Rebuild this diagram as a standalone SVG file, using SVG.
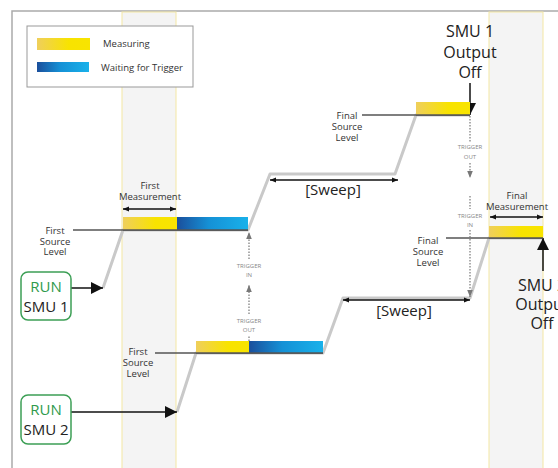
<svg xmlns="http://www.w3.org/2000/svg" width="558" height="468" viewBox="0 0 558 468">
<defs>
<linearGradient id="gy" x1="0" x2="1" y1="0" y2="0"><stop offset="0" stop-color="#efcf5c"/><stop offset="0.6" stop-color="#f8e300"/><stop offset="1" stop-color="#f8e400"/></linearGradient>
<linearGradient id="gb" x1="0" x2="1" y1="0" y2="0"><stop offset="0" stop-color="#1b4f9c"/><stop offset="0.45" stop-color="#1591d6"/><stop offset="1" stop-color="#19b1ea"/></linearGradient>
<marker id="ah" viewBox="0 0 10 10" refX="10" refY="5" markerWidth="6" markerHeight="6" orient="auto-start-reverse" markerUnits="userSpaceOnUse"><path d="M0,1 L10,5 L0,9 Z" fill="#111"/></marker>
<marker id="big" viewBox="0 0 12 12" refX="12" refY="6" markerWidth="12" markerHeight="12" orient="auto" markerUnits="userSpaceOnUse"><path d="M0,0 L12,6 L0,12 Z" fill="#111"/></marker>
<marker id="ga" viewBox="0 0 10 10" refX="10" refY="5" markerWidth="7" markerHeight="7" orient="auto" markerUnits="userSpaceOnUse"><path d="M0,1 L10,5 L0,9 Z" fill="#777"/></marker>
</defs>
<style>
.band{fill:#f4f4f4;stroke:#f4e7a4;stroke-width:1}
.trace{fill:none;stroke:#c9c9c9;stroke-width:3;stroke-linejoin:round}
.lvl{stroke:#555;stroke-width:1.5}
.lbl{font-family:"Open Sans","Liberation Sans",sans-serif;font-size:9.5px;fill:#333;text-anchor:middle}
.big{font-family:"Open Sans","Liberation Sans",sans-serif;font-size:16px;fill:#222;text-anchor:middle}
.run{font-family:"Open Sans","Liberation Sans",sans-serif;font-size:15px;text-anchor:middle}
.trg{font-family:"Open Sans","Liberation Sans",sans-serif;font-size:6px;fill:#888;text-anchor:middle}
.dot{stroke:#777;stroke-width:1.2;stroke-dasharray:1.5 1.5;fill:none}
.dbl{stroke:#111;stroke-width:1.5;marker-start:url(#ah);marker-end:url(#ah)}
.box{fill:#fff;stroke:#3c9f55;stroke-width:1.5}
</style>
<rect width="558" height="468" fill="#fff"/>
<path d="M12,468 V11 H558" fill="none" stroke="#aaa" stroke-width="1.5"/>
<g id="bands">
<rect class="band" x="122" y="12" width="54" height="460"/>
<rect class="band" x="489" y="12" width="54" height="460"/>
</g>
<g id="legend">
<rect x="27" y="26" width="166" height="61" fill="#fff" stroke="#999" stroke-width="1"/>
<rect x="37" y="38" width="53" height="12" fill="url(#gy)"/>
<rect x="37" y="62" width="52" height="10" fill="url(#gb)"/>
<text x="103" y="47" class="lbl" style="text-anchor:start">Measuring</text>
<text x="101" y="71" class="lbl" style="text-anchor:start">Waiting for Trigger</text>
</g>
<g id="connectors">
<path class="trace" d="M103,288 L123,230 L248,230 L270,174 L395,174 L416,115 L470,115"/>
<path class="trace" d="M177,412 L196,353 L323,353 L343,298 L470,298 L489,238 L543,238"/>
<line class="lvl" x1="73" y1="230" x2="248" y2="230"/>
<line class="lvl" x1="362" y1="115" x2="470" y2="115"/>
<line class="lvl" x1="155" y1="353" x2="323" y2="353"/>
<line class="lvl" x1="446" y1="238" x2="543" y2="238"/>
<line x1="71" y1="288" x2="103" y2="288" stroke="#111" stroke-width="1.5" marker-end="url(#big)"/>
<line x1="71" y1="412" x2="177" y2="412" stroke="#111" stroke-width="1.5" marker-end="url(#big)"/>
<line x1="470" y1="83" x2="470" y2="115" stroke="#111" stroke-width="1.5" marker-end="url(#big)"/>
<line x1="543" y1="271" x2="543" y2="238" stroke="#111" stroke-width="1.5" marker-end="url(#big)"/>
<line class="dbl" x1="123" y1="209" x2="176" y2="209"/>
<line class="dbl" x1="490" y1="217" x2="543" y2="217"/>
<line class="dbl" x1="270" y1="180" x2="398" y2="180"/>
<line class="dbl" x1="343" y1="300" x2="470" y2="300"/>
<line class="dot" x1="249" y1="341" x2="249" y2="335"/>
<line class="dot" x1="249" y1="314" x2="249" y2="285" marker-end="url(#ga)"/>
<line class="dot" x1="249" y1="259" x2="249" y2="232" marker-end="url(#ga)"/>
<line class="dot" x1="470" y1="116" x2="470" y2="142"/>
<line class="dot" x1="470" y1="163" x2="470" y2="178" marker-end="url(#ga)"/>
<line class="dot" x1="470" y1="196" x2="470" y2="209"/>
<line class="dot" x1="470" y1="230" x2="470" y2="297" marker-end="url(#ga)"/>
</g>
<g id="smu1-first">
<rect x="123" y="217" width="54" height="13" fill="url(#gy)"/>
<rect x="177" y="217" width="71" height="13" fill="url(#gb)"/>
<line class="lvl" x1="123" y1="230" x2="248" y2="230"/>
<text class="lbl" x="150" y="189">First</text>
<text class="lbl" x="150" y="200">Measurement</text>
<text class="lbl" x="55" y="234">First</text>
<text class="lbl" x="55" y="245">Source</text>
<text class="lbl" x="55" y="255">Level</text>
</g>
<g id="smu1-final">
<rect x="416" y="102" width="54" height="13" fill="url(#gy)"/>
<line class="lvl" x1="416" y1="115" x2="470" y2="115"/>
<text class="lbl" x="347" y="119">Final</text>
<text class="lbl" x="347" y="130">Source</text>
<text class="lbl" x="347" y="141">Level</text>
</g>
<g id="smu1-off">
<text class="big" x="470" y="37">SMU 1</text>
<text class="big" x="470" y="58">Output</text>
<text class="big" x="470" y="78">Off</text>
</g>
<g id="smu2-first">
<rect x="196" y="341" width="53" height="12" fill="url(#gy)"/>
<rect x="249" y="341" width="74" height="12" fill="url(#gb)"/>
<line class="lvl" x1="196" y1="353" x2="323" y2="353"/>
<text class="lbl" x="138" y="355">First</text>
<text class="lbl" x="138" y="366">Source</text>
<text class="lbl" x="138" y="377">Level</text>
</g>
<g id="smu2-final">
<rect x="489" y="226" width="54" height="12" fill="url(#gy)"/>
<line class="lvl" x1="489" y1="238" x2="543" y2="238"/>
<text class="lbl" x="517" y="199">Final</text>
<text class="lbl" x="517" y="210">Measurement</text>
<text class="lbl" x="428" y="244">Final</text>
<text class="lbl" x="428" y="255">Source</text>
<text class="lbl" x="428" y="266">Level</text>
</g>
<g id="smu2-off">
<text class="big" x="542" y="291">SMU 2</text>
<text class="big" x="542" y="310">Output</text>
<text class="big" x="542" y="329">Off</text>
</g>
<g id="sweeps">
<text class="big" x="333" y="195" style="font-size:15px">[Sweep]</text>
<text class="big" x="404" y="316" style="font-size:15px">[Sweep]</text>
</g>
<g id="triggers">
<text class="trg" x="249" y="268">TRIGGER</text>
<text class="trg" x="249" y="277">IN</text>
<text class="trg" x="249" y="323">TRIGGER</text>
<text class="trg" x="249" y="332">OUT</text>
<text class="trg" x="470" y="149">TRIGGER</text>
<text class="trg" x="470" y="159">OUT</text>
<text class="trg" x="470" y="218">TRIGGER</text>
<text class="trg" x="470" y="227">IN</text>
</g>
<g id="run-smu1">
<rect class="box" x="21" y="272" width="50" height="48" rx="7"/>
<text class="run" x="46" y="292" fill="#2e9a4c">RUN</text>
<text class="run" x="46" y="312" fill="#222">SMU 1</text>
</g>
<g id="run-smu2">
<rect class="box" x="21" y="395" width="50" height="49" rx="7"/>
<text class="run" x="46" y="415" fill="#2e9a4c">RUN</text>
<text class="run" x="46" y="435" fill="#222">SMU 2</text>
</g>
</svg>
